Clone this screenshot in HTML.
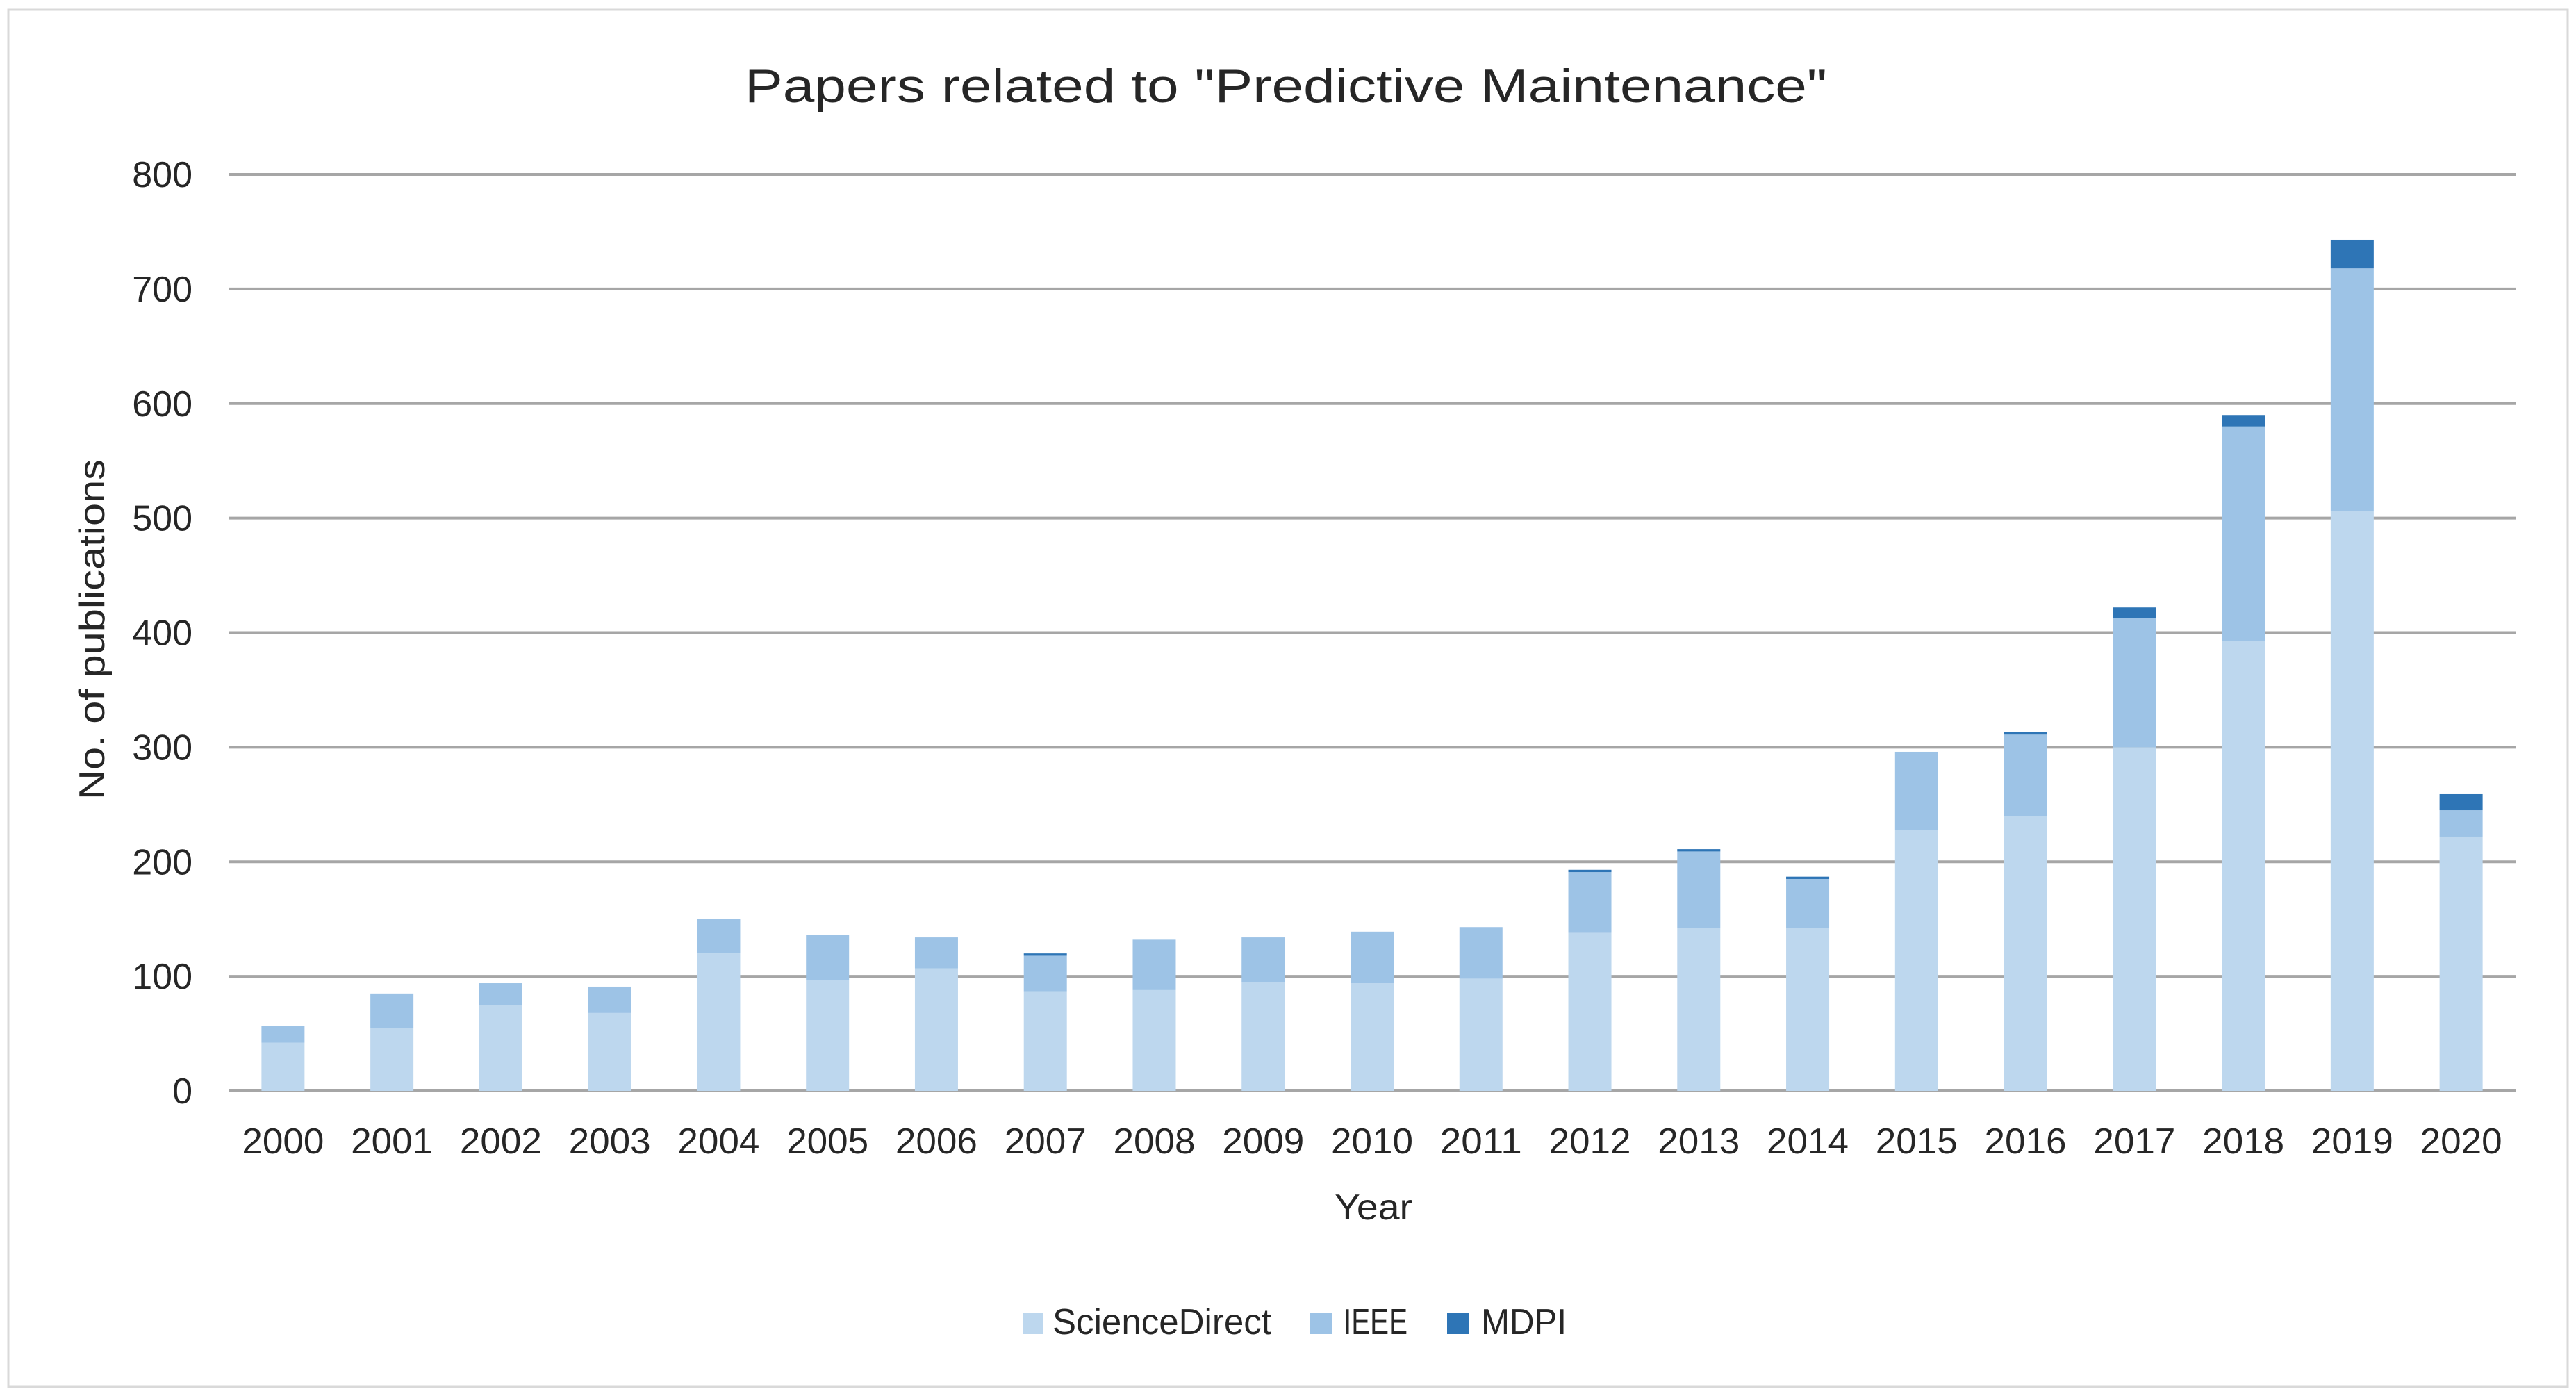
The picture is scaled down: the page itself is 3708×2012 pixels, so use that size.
<!DOCTYPE html>
<html><head><meta charset="utf-8"><style>
html,body{margin:0;padding:0;background:#fff;}
svg{display:block;font-family:"Liberation Sans",sans-serif;}
</style></head><body>
<svg id="chart" width="3708" height="2012" viewBox="0 0 3708 2012" xmlns="http://www.w3.org/2000/svg">
<rect x="12" y="14" width="3684" height="1982" fill="#fff" stroke="#d9d9d9" stroke-width="3"/>
<text x="1851" y="147" font-size="68" text-anchor="middle" fill="#262626" textLength="1558" lengthAdjust="spacingAndGlyphs">Papers related to "Predictive Maintenance"</text>
<g id="grid"></g>
<g id="bars"></g>
<g id="labels"></g>
<text transform="translate(150,906) rotate(-90)" font-size="52" text-anchor="middle" fill="#262626" textLength="490" lengthAdjust="spacingAndGlyphs">No. of publications</text>
<text x="1977" y="1755" font-size="52" text-anchor="middle" fill="#262626" textLength="112" lengthAdjust="spacingAndGlyphs">Year</text>
<g>
<g>
<rect x="1472" y="1890" width="30" height="30" fill="#bdd7ee"/>
<text x="1515" y="1920" font-size="52" fill="#262626" textLength="315" lengthAdjust="spacingAndGlyphs">ScienceDirect</text></g>
<g>
<rect x="1885" y="1890" width="32" height="30" fill="#9dc3e6"/>
<text x="1934" y="1920" font-size="52" fill="#262626" textLength="92" lengthAdjust="spacingAndGlyphs">IEEE</text></g>
<g>
<rect x="2083" y="1890" width="31" height="30" fill="#2e75b6"/>
<text x="2132" y="1920" font-size="52" fill="#262626" textLength="123" lengthAdjust="spacingAndGlyphs">MDPI</text></g>
</g>
</svg>
<script>
const years = ["2000","2001","2002","2003","2004","2005","2006","2007","2008","2009","2010","2011","2012","2013","2014","2015","2016","2017","2018","2019","2020"];
const scienceDirect = [42,55,75,68,120,97,107,87,88,95,94,98,138,142,142,228,240,300,393,506,222];
const ieee = [15,30,19,23,30,39,27,31,44,39,45,45,53,67,43,68,71,113,187,212,23];
const mdpi = [0,0,0,0,0,0,0,2,0,0,0,0,2,2,2,0,2,9,10,25,14];
const yTicks = [0,100,200,300,400,500,600,700,800];

const NS = "http://www.w3.org/2000/svg";
const x0 = 329, x1 = 3621, y0 = 1570, yTop = 251, yMax = 800;
const band = (x1 - x0) / years.length;
const barW = 62;
function yScale(v){ return y0 - (v / yMax) * (y0 - yTop); }
function xCenter(i){ return x0 + band * (i + 0.5); }
function mk(tag, attrs){ const e = document.createElementNS(NS, tag); for (const k in attrs) e.setAttribute(k, attrs[k]); return e; }

const grid = document.getElementById('grid');
const labels = document.getElementById('labels');
yTicks.forEach(t => {
  const l = mk('line', {x1:x0, x2:x1, y1:yScale(t), y2:yScale(t), stroke:'#a6a6a6', 'stroke-width':4});
  
  
  grid.appendChild(l);
  const tx = mk('text', {x:277, y:yScale(t)+18, 'font-size':52, 'text-anchor':'end', fill:'#262626'});
  tx.textContent = String(t);
  
  
  labels.appendChild(tx);
});

const bars = document.getElementById('bars');
const series = [[scienceDirect,'#bdd7ee','sciencedirect'],[ieee,'#9dc3e6','ieee'],[mdpi,'#2e75b6','mdpi']];
years.forEach((yr, i) => {
  let base = 0;
  series.forEach(([vals, col, nm]) => {
    const v = vals[i];
    if (v > 0) {
      const r = mk('rect', {x:xCenter(i)-barW/2, y:yScale(base+v), width:barW, height:yScale(base)-yScale(base+v), fill:col});
      
      
      bars.appendChild(r);
    }
    base += v;
  });
  const tx = mk('text', {x:xCenter(i), y:1660, 'font-size':52, 'text-anchor':'middle', fill:'#262626', textLength:118, lengthAdjust:'spacingAndGlyphs'});
  tx.textContent = yr;
  
  
  labels.appendChild(tx);
});
</script>
</body></html>
